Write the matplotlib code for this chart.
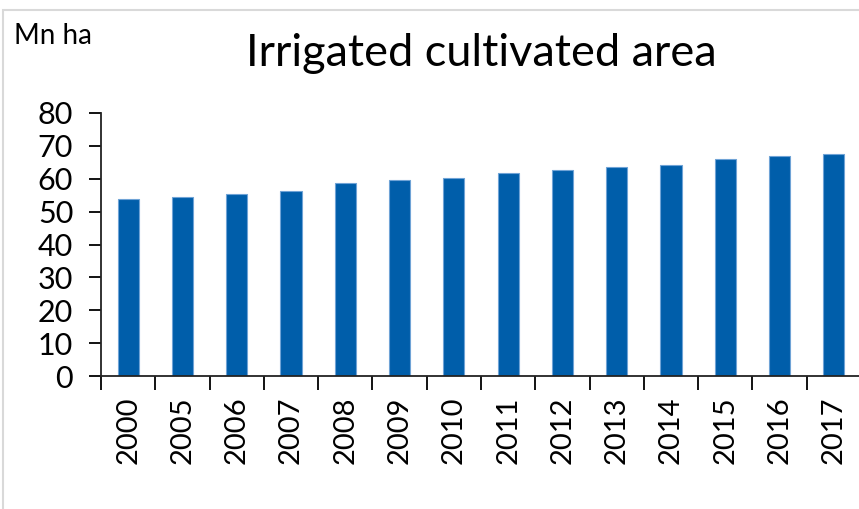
import numpy as np
import matplotlib.pyplot as plt
from matplotlib.patches import Rectangle

years = ['2000', '2005', '2006', '2007', '2008', '2009', '2010',
         '2011', '2012', '2013', '2014', '2015', '2016', '2017']
area = [53.8, 54.6, 55.4, 56.2, 58.7, 59.5, 60.3,
        61.9, 62.7, 63.5, 64.3, 66.0, 66.8, 67.6]

plt.rcParams['font.family'] = ['Lato', 'DejaVu Sans']

W, H = 859, 509
fig = plt.figure(figsize=(W / 100, H / 100), dpi=100)

# light frame around the chart area
fig.patches.append(Rectangle((3 / W, -0.1), 1.2, 1 - 10 / H + 0.1, transform=fig.transFigure,
                             fill=False, edgecolor='#d9d9d9', linewidth=1.5))

ax = fig.add_axes([101 / W, 1 - 376 / H, 760 / W, 263 / H])
x = np.arange(len(years))
ax.bar(x, area, width=0.39, color='#005EAA', edgecolor='#6FA3D6', linewidth=0.8)

ax.set_xlim(-0.5, len(years) - 0.5)
ax.set_ylim(0, 80)
ax.set_yticks(range(0, 81, 10))
ax.tick_params(axis='y', labelsize=22, length=9, width=1.3, pad=11)

# ticks between categories, labels at centres
ax.set_xticks(np.arange(-0.5, len(years), 1.0))
ax.set_xticklabels([])
ax.tick_params(axis='x', which='major', length=10, width=1.3)
ax.set_xticks(x, minor=True)
ax.set_xticklabels(years, minor=True, rotation=90, fontsize=21)
ax.tick_params(axis='x', which='minor', length=0, pad=15)

for s in ['top', 'right']:
    ax.spines[s].set_visible(False)
for s in ['left', 'bottom']:
    ax.spines[s].set_linewidth(1.3)
    ax.spines[s].set_color('#222222')

fig.text(481 / W, 1 - 66 / H, 'Irrigated cultivated area', ha='center', va='baseline', fontsize=32.5)
fig.text(14 / W, 1 - 44 / H, 'Mn ha', ha='left', va='baseline', fontsize=20)

fig.savefig('out.png', dpi=100)
